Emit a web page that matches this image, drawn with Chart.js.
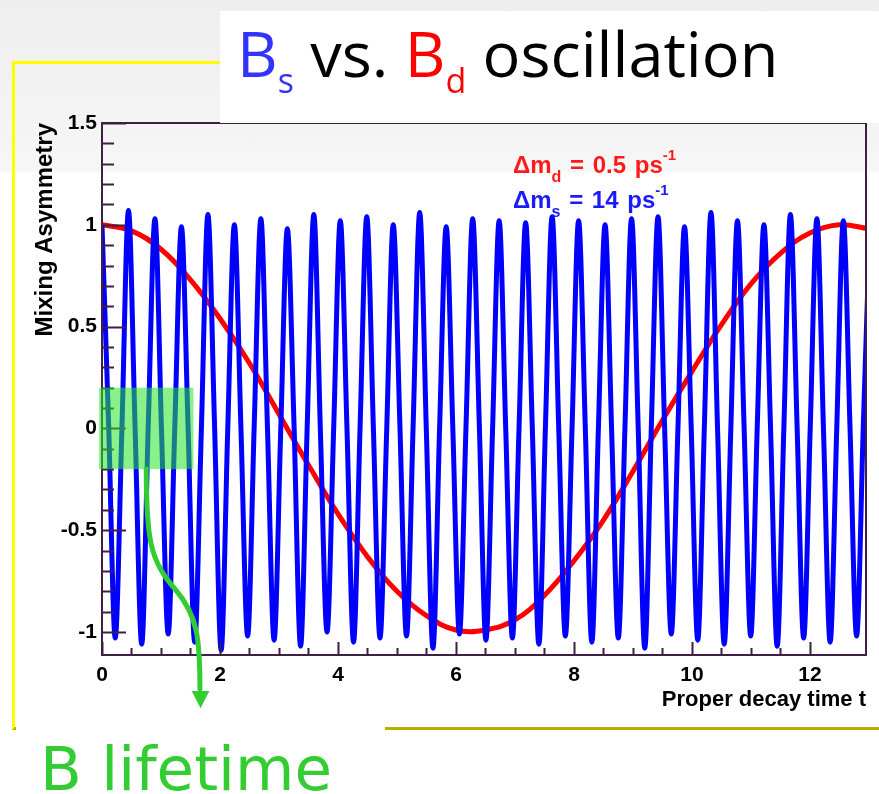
<!DOCTYPE html>
<html>
<head>
<meta charset="utf-8">
<title>Bs vs. Bd oscillation</title>
<script src="https://cdn.jsdelivr.net/npm/chart.js@4/dist/chart.umd.min.js"></script>
<style>
  html, body { margin: 0; padding: 0; }
  body {
    width: 879px; height: 794px; position: relative; overflow: hidden;
    background: linear-gradient(#eeeeee 0px, #f6f6f6 170px, #ffffff 174px, #ffffff 100%);
  }
  #frame {
    position: absolute; left: 12px; top: 61px; width: 900px; height: 663px;
    border-left: 3px solid #ffff00; border-top: 3px solid #ffff00; border-bottom: 3px solid #b8b000;
  }
  #lifetime-box { position: absolute; left: 16px; top: 727px; width: 369px; height: 67px; background: #fff; }
  #lifetime {
    position: absolute; left: 40px; top: 738px; color: #33cc33;
    font: 61px 'DejaVu Sans'; line-height: 61px; white-space: nowrap;
  }
  canvas { position: absolute; left: 0; top: 0; }
  #title-box { position: absolute; left: 220px; top: 11px; width: 659px; height: 112px; background: #fff; }
  #title {
    position: absolute; left: 17px; top: 10px; color: #000;
    font: 63px 'Open Sans'; line-height: 63px; white-space: nowrap;
  }
  #title .sub { font-size: 34px; vertical-align: -16px; }
  .note {
    position: absolute; left: 513px; white-space: nowrap; word-spacing: 2px;
    font: bold 24px 'Liberation Sans'; line-height: 24px;
  }
  .note .nsub { font-size: 16px; vertical-align: -9px; word-spacing: 0; }
  .note .nsup { font-size: 15px; vertical-align: 13px; }
</style>
</head>
<body>
<div id="frame"></div>
<div id="lifetime-box"></div>
<div id="lifetime">B lifetime</div>
<canvas id="chart" width="879" height="794"></canvas>
<div class="note" style="top:143px;color:#ff1a1a">&Delta;m<span class="nsub">d</span> = 0.5 ps<span class="nsup">-1</span></div>
<div class="note" style="top:178px;color:#1a1aff">&Delta;m<span class="nsub">s</span> = 14 ps<span class="nsup">-1</span></div>
<div id="title-box">
  <div id="title"><span style="color:#3333ff">B<span class="sub">s</span></span> vs. <span style="color:#ff0000">B<span class="sub">d</span></span> oscillation</div>
</div>

<script>
// Bs mixing asymmetry, one sample every quarter period (peak, crossing, trough, crossing)
const BS_DT = 0.1122;
const BS_ASYM = [
  1.00,  0.02, -1.03, -0.01,
  1.07,  0.00, -1.06,  0.03,
  1.03, -0.02, -1.01,  0.01,
  0.99,  0.01, -1.05, -0.02,
  1.05,  0.02, -1.09,  0.00,
  1.00, -0.01, -1.02,  0.02,
  1.03,  0.00, -1.04, -0.01,
  0.98,  0.03, -1.07,  0.01,
  1.05, -0.02, -1.00,  0.00,
  1.02,  0.01, -1.05,  0.02,
  1.04,  0.00, -1.03, -0.02,
  1.00,  0.02, -1.02,  0.01,
  1.06, -0.01, -1.08,  0.00,
  0.99,  0.00, -1.01,  0.02,
  1.03,  0.02, -1.04, -0.01,
  1.02, -0.01, -1.03,  0.00,
  1.01,  0.01, -1.06,  0.02,
  1.04,  0.00, -1.02, -0.01,
  1.02,  0.02, -1.05,  0.01,
  1.00, -0.02, -1.03,  0.00,
  1.03,  0.01, -1.08,  0.02,
  1.04,  0.00, -1.01, -0.01,
  0.99,  0.02, -1.04,  0.01,
  1.06, -0.01, -1.06,  0.00,
  1.02,  0.01, -1.02,  0.02,
  1.00,  0.00, -1.07, -0.01,
  1.05,  0.02, -1.03,  0.01,
  1.03, -0.01, -1.05,  0.00,
  1.02,  0.01, -1.02,  0.00,
  1.01,
];

// Bd mixing asymmetry, every 0.5 ps
const BD_DT = 0.5;
const BD_ASYM = [
  1.00, 0.97, 0.88, 0.73, 0.54, 0.32, 0.07, -0.18, -0.42, -0.63, -0.80, -0.92, -0.99,
  -0.99, -0.94, -0.82, -0.65, -0.45, -0.21, 0.04, 0.28, 0.51, 0.71, 0.86, 0.96, 1.00, 0.98,
];

const X_LABELS = [0, 2, 4, 6, 8, 10, 12];
const Y_LABELS = [-1, -0.5, 0, 0.5, 1, 1.5];

const AXIS_COLOR = '#3f1f44';
const AXIS_FONT  = "'Liberation Sans', Arial, sans-serif";

const near = (a, b) => Math.abs(a - b) < 1e-6;
const onStep = (v, s) => near(v / s, Math.round(v / s));
const toPoints = (vals, dt) => vals.map((v, i) => ({ x: +(i * dt).toFixed(4), y: v }));

// ── frame, inward ticks, lifetime box and arrow ─────────────────────────
const frameAndNotes = {
  id: 'frameAndNotes',
  afterDatasetsDraw(chart) {
    const { ctx, chartArea: a, scales: { x, y } } = chart;
    ctx.save();

    ctx.strokeStyle = AXIS_COLOR;
    ctx.lineWidth = 2;
    ctx.strokeRect(a.left, a.top, a.right - a.left, a.bottom - a.top);

    ctx.beginPath();
    x.ticks.forEach(t => {
      if (!onStep(t.value, 0.5)) return;
      const px = Math.round(x.getPixelForValue(t.value)) + 0.5;
      const len = onStep(t.value, 2) ? 13 : 7;
      ctx.moveTo(px, a.bottom); ctx.lineTo(px, a.bottom - len);
    });
    y.ticks.forEach(t => {
      if (!onStep(t.value, 0.1)) return;
      const py = Math.round(y.getPixelForValue(t.value)) + 0.5;
      const len = onStep(t.value, 0.5) ? 24 : 12;
      ctx.moveTo(a.left, py); ctx.lineTo(a.left + len, py);
    });
    ctx.stroke();

    // shaded band for the B lifetime
    const X = v => x.getPixelForValue(v), Y = v => y.getPixelForValue(v);
    ctx.fillStyle = 'rgba(40, 230, 40, 0.55)';
    ctx.fillRect(X(-0.05), Y(0.2), X(1.55) - X(-0.05), Y(-0.2) - Y(0.2));

    // arrow down to the label
    ctx.strokeStyle = '#33cc33';
    ctx.fillStyle = '#33cc33';
    ctx.lineWidth = 5;
    ctx.lineCap = 'round';
    ctx.beginPath();
    ctx.moveTo(X(0.75), Y(-0.2));
    ctx.bezierCurveTo(X(0.75), Y(-0.55), X(0.82), Y(-0.65), X(1.24), Y(-0.79));
    ctx.bezierCurveTo(X(1.63), Y(-0.92), X(1.66), Y(-1.04), X(1.66), Y(-1.28));
    ctx.stroke();
    ctx.beginPath();
    ctx.moveTo(X(1.52), Y(-1.29));
    ctx.lineTo(X(1.82), Y(-1.29));
    ctx.lineTo(X(1.67), Y(-1.375));
    ctx.closePath();
    ctx.fill();

    ctx.restore();
  },
};

new Chart(document.getElementById('chart'), {
  type: 'line',
  data: {
    datasets: [
      {
        label: 'Bs', data: toPoints(BS_ASYM, BS_DT),
        borderColor: '#0000ff', borderWidth: 5, pointRadius: 0,
        cubicInterpolationMode: 'monotone', clip: 0,
      },
      {
        label: 'Bd', data: toPoints(BD_ASYM, BD_DT),
        borderColor: '#ff0000', borderWidth: 5, pointRadius: 0,
        tension: 0.4, clip: 0,
      },
    ],
  },
  options: {
    responsive: false, animation: false, events: [],
    layout: { padding: { top: 123, right: 13, bottom: 79, left: 0 } },
    plugins: { legend: { display: false }, tooltip: { enabled: false } },
    scales: {
      x: {
        type: 'linear', min: 0, max: 12.95,
        afterFit: s => { s.height = 60; },
        grid: { display: false, drawTicks: false }, border: { display: false },
        ticks: {
          stepSize: 0.5, autoSkip: false, maxRotation: 0, maxTicksLimit: 100, padding: 8,
          color: '#000', font: { family: AXIS_FONT, size: 21, weight: 'bold' },
          callback: v => X_LABELS.some(l => near(l, v)) ? String(v) : '',
        },
        title: {
          display: true, text: 'Proper decay time t', align: 'end', color: '#000',
          font: { family: AXIS_FONT, size: 22, weight: 'bold' }, padding: { top: 0, bottom: 2 },
        },
      },
      y: {
        min: -1.113, max: 1.5,
        afterFit: s => { s.width = 102; },
        grid: { display: false, drawTicks: false }, border: { display: false },
        ticks: {
          stepSize: 0.1, autoSkip: false, maxTicksLimit: 100, padding: 5,
          color: '#000', font: { family: AXIS_FONT, size: 21, weight: 'bold' },
          callback: v => { const l = Y_LABELS.find(l => near(l, v)); return l === undefined ? '' : String(l); },
        },
        title: {
          display: true, text: 'Mixing Asymmetry', align: 'end', color: '#000',
          font: { family: AXIS_FONT, size: 24, weight: 'bold' }, padding: { top: 31, bottom: 0 },
        },
      },
    },
  },
  plugins: [frameAndNotes],
});
</script>
</body>
</html>
